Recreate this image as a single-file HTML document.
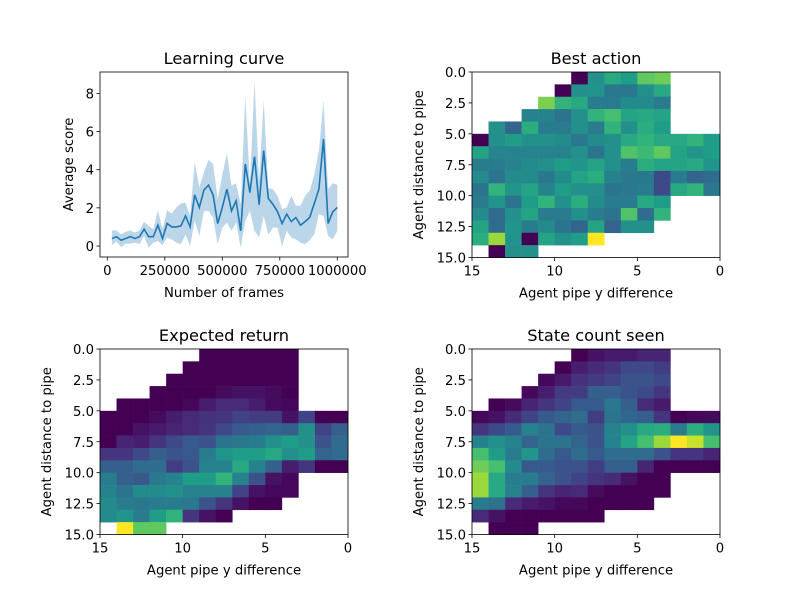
<!DOCTYPE html>
<html><head><meta charset="utf-8"><style>
body{margin:0;background:#fff;}
svg{display:block;font-family:"DejaVu Sans","Liberation Sans",sans-serif;}
</style></head><body>
<svg id="fig" width="800" height="600" viewBox="0 0 800 600"></svg>
<script>
// ---- Learning curve data ----
const frames=[20000,40000,60000,80000,100000,120000,140000,160000,180000,200000,220000,240000,260000,280000,300000,320000,340000,360000,380000,400000,420000,440000,460000,480000,500000,520000,540000,560000,580000,600000,620000,640000,660000,680000,700000,720000,740000,760000,780000,800000,820000,840000,860000,880000,900000,920000,940000,960000,980000,1000000];
const meanScore=[0.39,0.49,0.3,0.39,0.49,0.39,0.49,0.88,0.49,0.49,1.09,0.39,1.18,1.0,1.0,1.05,1.58,1.0,2.68,2.02,2.93,3.19,2.68,1.18,2.02,2.98,1.84,2.37,0.79,4.3,2.8,4.68,2.16,5.0,2.49,2.19,1.8,1.18,1.67,1.28,1.49,1.09,1.28,1.5,2.23,2.98,5.61,1.18,1.79,2.02];
const upperScore=[0.82,0.82,0.61,0.74,0.82,0.70,0.82,1.28,1.05,0.88,1.88,0.88,1.88,1.70,2.02,2.23,2.28,1.58,4.39,3.07,3.86,4.53,4.30,2.46,3.74,4.86,3.16,3.28,2.19,7.81,3.25,8.6,3.42,7.63,3.04,2.98,2.63,1.93,2.02,2.63,2.11,2.11,2.63,2.9,3.74,5.0,7.63,2.98,3.28,3.21];
const lowerScore=[0.05,0.23,-0.05,0.12,0.12,0.18,0.09,0.53,-0.09,0.18,0.26,0.05,0.44,0.35,0.18,0.09,0.61,0,1.32,0.53,1.84,1.84,1.49,0.09,0.96,1.23,0.79,1.23,-0.09,1.32,1.84,0.79,0.44,1.58,0.61,0.96,0.96,0,0.79,0.44,0.35,0.18,0.09,0.3,0.61,1.67,1.58,0.53,0.35,0.79];
const lcXTicks=[0,250000,500000,750000,1000000];
const lcYTicks=[0,2,4,6,8];
const hmTicks=[0,2.5,5,7.5,10,12.5,15];
const hmXTicks=[15,10,5,0];
const _=null;
const bestAction=[
[_,_,_,_,_,_,0,0.5,0.6,0.55,0.75,0.78,_,_,_],
[_,_,_,_,_,0,0.5,0.52,0.4,0.4,0.5,0.6,_,_,_],
[_,_,_,_,0.8,0.65,0.6,0.42,0.42,0.48,0.48,0.42,_,_,_],
[_,_,_,0.45,0.45,0.38,0.5,0.65,0.7,0.58,0.6,0.58,_,_,_],
[_,0.5,0.32,0.62,0.42,0.42,0.5,0.42,0.65,0.5,0.62,0.55,_,_,_],
[0,0.5,0.55,0.5,0.5,0.48,0.4,0.48,0.5,0.6,0.65,0.6,0.6,0.65,0.55],
[0.58,0.45,0.45,0.45,0.45,0.45,0.5,0.38,0.5,0.72,0.68,0.75,0.58,0.52,0.55],
[0.42,0.42,0.45,0.48,0.5,0.55,0.52,0.58,0.5,0.42,0.62,0.58,0.58,0.6,0.52],
[0.48,0.38,0.48,0.48,0.4,0.48,0.58,0.62,0.45,0.4,0.4,0.22,0.42,0.32,0.35],
[0.38,0.65,0.52,0.58,0.45,0.55,0.5,0.5,0.38,0.4,0.42,0.22,0.6,0.65,0.4],
[0.42,0.52,0.38,0.55,0.65,0.5,0.62,0.48,0.42,0.42,0.6,0.55,_,_,_],
[0.48,0.35,0.5,0.58,0.42,0.42,0.5,0.42,0.38,0.72,0.35,0.65,_,_,_],
[0.58,0.35,0.52,0.42,0.48,0.38,0.32,0.58,0.32,0.5,0.5,_,_,_,_],
[0.62,0.85,0.52,0,0.58,0.5,0.55,1.0,_,_,_,_,_,_,_],
[_,0,0.5,0.5,_,_,_,_,_,_,_,_,_,_,_]];
const expectedReturn=[
[_,_,_,_,_,_,0,0,0,0,0,0,_,_,_],
[_,_,_,_,_,0,0,0,0,0,0,0,_,_,_],
[_,_,_,_,0,0,0,0,0,0,0,0,_,_,_],
[_,_,_,0,0,0,0,0.03,0.05,0.05,0.03,0,_,_,_],
[_,0,0,0,0,0.02,0.08,0.12,0.12,0.08,0.03,0.02,_,_,_],
[0,0,0,0.03,0.08,0.12,0.14,0.15,0.2,0.18,0.18,0.05,0.2,0,0],
[0,0,0.05,0.07,0.1,0.12,0.15,0.22,0.28,0.3,0.32,0.3,0.5,0.2,0.3],
[0,0.1,0.08,0.15,0.22,0.28,0.25,0.38,0.4,0.42,0.5,0.55,0.5,0.25,0.35],
[0.15,0.15,0.22,0.3,0.25,0.28,0.42,0.52,0.55,0.55,0.6,0.5,0.55,0.32,0.35],
[0.3,0.3,0.35,0.35,0.18,0.25,0.45,0.45,0.6,0.45,0.3,0.08,0.15,0,0],
[0.42,0.3,0.28,0.4,0.45,0.55,0.55,0.65,0.45,0.25,0.05,0.02,_,_,_],
[0.45,0.38,0.48,0.48,0.5,0.45,0.45,0.45,0.2,0.05,0.02,0.02,_,_,_],
[0.48,0.42,0.4,0.42,0.42,0.4,0.25,0.15,0.05,0,0,_,_,_,_],
[0.48,0.52,0.42,0.55,0.65,0.15,0.05,0,_,_,_,_,_,_,_],
[_,1.0,0.75,0.75,_,_,_,_,_,_,_,_,_,_,_]];
const stateCount=[
[_,_,_,_,_,_,0,0.05,0.07,0.07,0.1,0.1,_,_,_],
[_,_,_,_,_,0,0.08,0.12,0.15,0.22,0.22,0.18,_,_,_],
[_,_,_,_,0.02,0.07,0.14,0.17,0.2,0.25,0.25,0.22,_,_,_],
[_,_,_,0.02,0.08,0.17,0.18,0.3,0.3,0.25,0.22,0.15,_,_,_],
[_,0,0.03,0.1,0.15,0.2,0.28,0.28,0.4,0.3,0.12,0.07,_,_,_],
[0.02,0.05,0.12,0.2,0.28,0.32,0.35,0.18,0.38,0.33,0.3,0.15,0,0.02,0.03],
[0.15,0.22,0.28,0.45,0.38,0.22,0.28,0.25,0.45,0.5,0.6,0.62,0.42,0.62,0.52],
[0.45,0.5,0.45,0.32,0.38,0.38,0.32,0.25,0.45,0.58,0.7,0.85,1.0,0.92,0.7],
[0.7,0.55,0.42,0.52,0.35,0.28,0.35,0.28,0.35,0.35,0.35,0.25,0.15,0.15,0.1],
[0.78,0.7,0.48,0.28,0.28,0.25,0.25,0.18,0.3,0.3,0.1,0,0,0,0],
[0.85,0.6,0.42,0.42,0.32,0.25,0.2,0.15,0.12,0.05,0,0,_,_,_],
[0.85,0.6,0.45,0.3,0.15,0.1,0.12,0.03,0,0,0,0,_,_,_],
[0.42,0.38,0.12,0.07,0.05,0.02,0.02,0,0,0,0,_,_,_,_],
[0.12,0.05,0,0,0,0,0,0,_,_,_,_,_,_,_],
[_,0,0,0,_,_,_,_,_,_,_,_,_,_,_]];

const NS='http://www.w3.org/2000/svg';
const svg=document.getElementById('fig');
const TICK=13.2;
function mk(tag,attrs,parent){const e=document.createElementNS(NS,tag);for(const k in attrs)e.setAttribute(k,attrs[k]);(parent||svg).appendChild(e);return e;}
const VIR=[[68,1,84],[72,40,120],[62,74,137],[49,104,142],[38,130,142],[31,158,137],[53,183,121],[109,205,89],[180,222,44],[253,231,37]];
function viridis(t){t=Math.max(0,Math.min(1,t))*9;const i=Math.min(8,Math.floor(t)),f=t-i;const a=VIR[i],b=VIR[i+1];return 'rgb('+[0,1,2].map(k=>Math.round(a[k]+(b[k]-a[k])*f)).join(',')+')';}

function text(x,y,s,o,name){const t=mk('text',Object.assign({x:x,y:y,'font-size':TICK,fill:'#000'},o||{}));t.textContent=s;return t;}

(function(){
const L=100,R=348,T=72,B=257;
const xs=v=>107.3+(v/1000000)*230;
const ys=v=>246-v*19.08;
const g=mk('g',{});

let d='';frames.forEach((f,i)=>{d+=(i?'L':'M')+xs(f)+','+ys(upperScore[i]);});
for(let i=frames.length-1;i>=0;i--)d+='L'+xs(frames[i])+','+ys(lowerScore[i]);
const band=mk('path',{d:d+'Z',fill:'#1f77b4','fill-opacity':0.3,stroke:'none'},g);

let ld='';frames.forEach((f,i)=>{ld+=(i?'L':'M')+xs(f)+','+ys(meanScore[i]);});
const line=mk('path',{d:ld,fill:'none',stroke:'#1f77b4','stroke-width':1.6},g);

mk('rect',{x:L,y:T,width:R-L,height:B-T,fill:'none',stroke:'#000','stroke-width':0.8},g);
lcXTicks.forEach(v=>{const x=xs(v);mk('line',{x1:x,x2:x,y1:B,y2:B+3.5,stroke:'#000','stroke-width':0.8},g);text(x,B+18,String(v),{'text-anchor':'middle'},'x-tick-label');});
lcYTicks.forEach(v=>{const y=ys(v);mk('line',{x1:L,x2:L-3.5,y1:y,y2:y,stroke:'#000','stroke-width':0.8},g);text(L-6,y+5,String(v),{'text-anchor':'end'},'y-tick-label');});
text((L+R)/2,64,'Learning curve',{'text-anchor':'middle','font-size':16.2},'chart-title');
text((L+R)/2,297,'Number of frames',{'text-anchor':'middle'},'x-axis-title');
text(0,0,'Average score',{'text-anchor':'middle',transform:'translate(73,'+((T+B)/2)+') rotate(-90)'},'y-axis-title');
})();

function heatmap(L,T,data,title,name,ylabX){
const W=248,H=185.5,R=L+W,B=T+H;
const xs=v=>L+(15-v)/15*W;
const ys=v=>T+v/15*H;
const g=mk('g',{});

data.forEach((row,r)=>row.forEach((v,c)=>{if(v===null)return;
 const x0=xs(15-c),x1=xs(14-c),y0=ys(r),y1=ys(r+1);
 const cell=mk('rect',{x:x0,y:y0,width:x1-x0+0.3,height:y1-y0+0.3,fill:viridis(v)},g);
 
 
}));
mk('rect',{x:L,y:T,width:W,height:H,fill:'none',stroke:'#000','stroke-width':0.8},g);
hmXTicks.forEach(v=>{const x=xs(v);mk('line',{x1:x,x2:x,y1:B,y2:B+3.5,stroke:'#000','stroke-width':0.8},g);text(x,B+18,String(v),{'text-anchor':'middle'},'x-tick-label');});
hmTicks.forEach(v=>{const y=ys(v);mk('line',{x1:L,x2:L-3.5,y1:y,y2:y,stroke:'#000','stroke-width':0.8},g);text(L-6,y+5,v.toFixed(1),{'text-anchor':'end'},'y-tick-label');});
text(L+W/2,T-8,title,{'text-anchor':'middle','font-size':16.2},'chart-title');
text(L+W/2,B+40,'Agent pipe y difference',{'text-anchor':'middle'},'x-axis-title');
text(0,0,'Agent distance to pipe',{'text-anchor':'middle',transform:'translate('+ylabX+','+(T+H/2)+') rotate(-90)'},'y-axis-title');
}
heatmap(472,72,bestAction,'Best action','best-action-heatmap',423);
heatmap(100,349,expectedReturn,'Expected return','expected-return-heatmap',51);
heatmap(472,349,stateCount,'State count seen','state-count-heatmap',423);
</script>
</body></html>
